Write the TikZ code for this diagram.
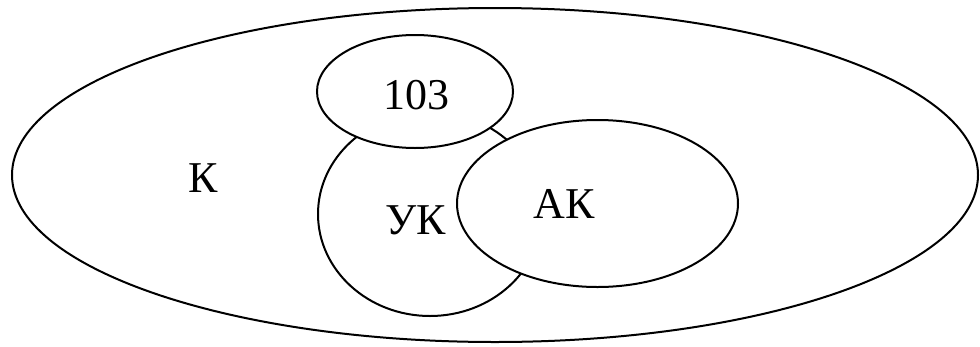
\documentclass[tikz,border=0pt]{standalone}
\usepackage{fontspec}
\setmainfont{Liberation Serif}
\usetikzlibrary{shapes.geometric}
\begin{document}
\begin{tikzpicture}[x=1pt,y=-1pt,
  setline/.style={draw=black,line width=2pt},
  setshape/.style={setline,ellipse,inner sep=0pt,fill=white},
  lbl/.style={font=\fontsize{44}{50}\selectfont,inner sep=0pt,text=black}]
\useasboundingbox (0,0) rectangle (980,346);
\node[setshape,minimum width=966pt,minimum height=334pt] (K) at (495,175) {};
\node[setshape,minimum width=224pt,minimum height=204pt] (UK) at (430,214) {};
\node[setshape,minimum width=196pt,minimum height=113pt] (N103) at (415,91.5) {};
\node[setshape,minimum width=281pt,minimum height=167pt] (AK) at (597.5,203.5) {};
\node[lbl] (tK) at (203,178) {К};
\node[lbl] (t103) at (416,95) {103};
\node[lbl] (tUK) at (416,220) {УК};
\node[lbl] (tAK) at (564,204) {АК};
\end{tikzpicture}
\end{document}
